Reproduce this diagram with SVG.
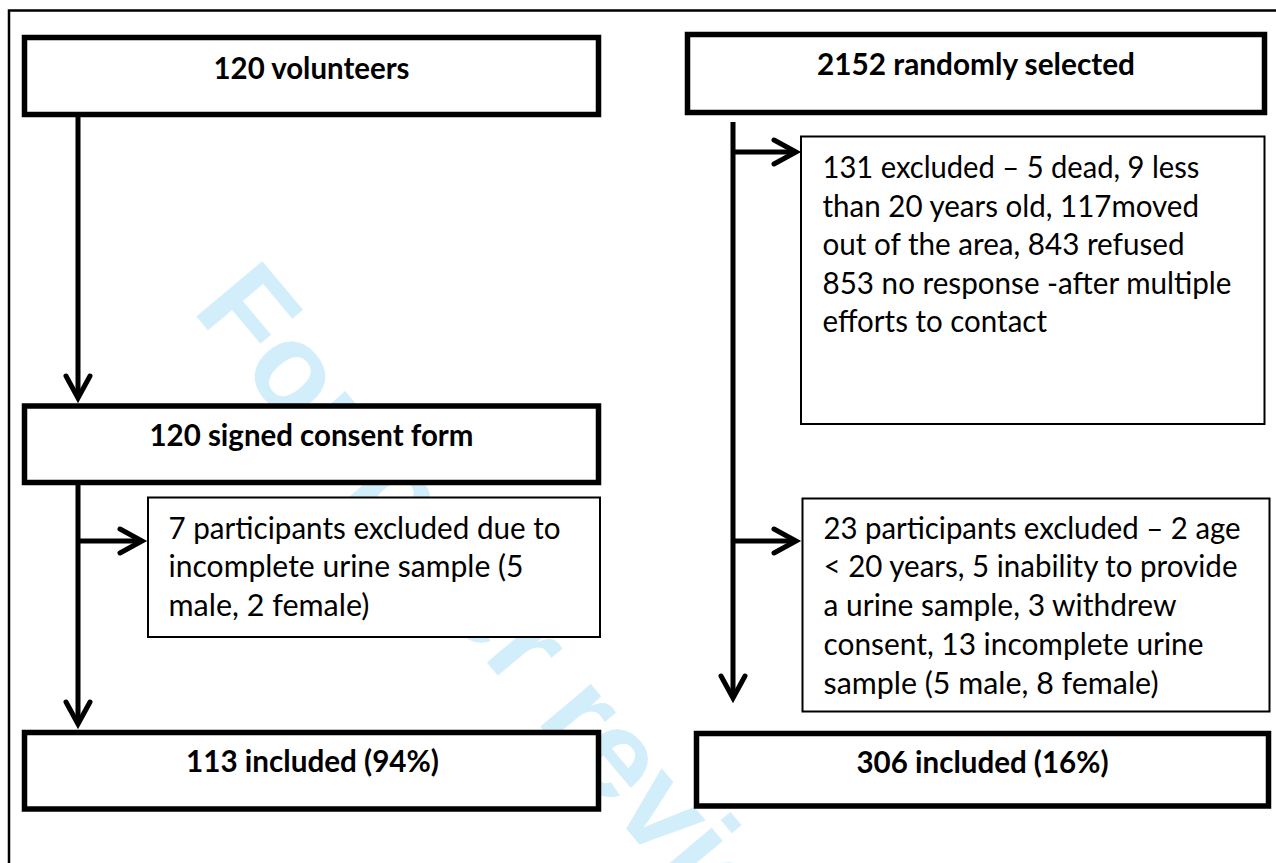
<svg xmlns="http://www.w3.org/2000/svg" width="1276" height="863" viewBox="0 0 1276 863">
  <style>
    .frame { fill: none; stroke: #000; stroke-width: 2.5; }
    .wm { font-family: "Liberation Sans", Arial, sans-serif; font-weight: bold; font-size: 125px; fill: #d3eefb; }
    .main { fill: #fff; stroke: #000; stroke-width: 5.5; }
    .note { fill: #fff; stroke: #000; stroke-width: 2; }
    .title { font-family: Lato, "Liberation Sans", sans-serif; font-weight: bold; font-size: 30px; fill: #000; text-anchor: middle; }
    .body { font-family: Lato, "Liberation Sans", sans-serif; font-size: 30px; fill: #000; }
    .link { fill: none; stroke: #000; stroke-width: 5; marker-end: url(#chev); }
  </style>
  <defs>
    <marker id="chev" markerUnits="userSpaceOnUse" viewBox="-30 -20 40 40" markerWidth="40" markerHeight="40" refX="0" refY="0" orient="auto" overflow="visible">
      <path d="M-22,-12 L0,0 L-22,12" fill="none" stroke="#000" stroke-width="5" stroke-linejoin="miter" stroke-linecap="round"/>
    </marker>
  </defs>

  <rect width="1276" height="863" fill="#fff"/>
  <!-- page frame (top and left edges) -->
  <path class="frame" d="M9,863 L9,10.5 L1276,10.5"/>

  <!-- diagonal watermark -->
  <text class="wm" transform="translate(191,310) rotate(50)">For peer review</text>

  <!-- connectors -->
  <g id="connectors">
    <path class="link" d="M78,117 L78,398"/>
    <path class="link" d="M78,485 L78,724"/>
    <path class="link" d="M80,541 L142,541"/>
    <path class="link" d="M733,122 L733,698"/>
    <path class="link" d="M733,152 L796,152"/>
    <path class="link" d="M733,541 L796,541"/>
  </g>

  <g id="volunteers">
    <rect class="main" x="24.5" y="37.5" width="574" height="77"/>
    <text class="title" x="311.5" y="79" textLength="196" lengthAdjust="spacingAndGlyphs">120 volunteers</text>
  </g>

  <g id="random">
    <rect class="main" x="687.5" y="34.5" width="577" height="78"/>
    <text class="title" x="976" y="75" textLength="318" lengthAdjust="spacingAndGlyphs">2152 randomly selected</text>
  </g>

  <g id="consent">
    <rect class="main" x="24.5" y="406" width="574" height="76.5"/>
    <text class="title" x="311.5" y="446" textLength="324" lengthAdjust="spacingAndGlyphs">120 signed consent form</text>
  </g>

  <g id="excluded-volunteers">
    <rect class="note" x="148" y="497.5" width="452" height="139.5"/>
    <text class="body" x="168.5" y="539" textLength="392" lengthAdjust="spacingAndGlyphs">7 participants excluded due to</text>
    <text class="body" x="168.5" y="577" textLength="355" lengthAdjust="spacingAndGlyphs">incomplete urine sample (5</text>
    <text class="body" x="168.5" y="615.5" textLength="201" lengthAdjust="spacingAndGlyphs">male, 2 female)</text>
  </g>

  <g id="included-volunteers">
    <rect class="main" x="24.5" y="732.5" width="574" height="76.5"/>
    <text class="title" x="312.5" y="771.5" textLength="253" lengthAdjust="spacingAndGlyphs">113 included (94%)</text>
  </g>

  <g id="excluded-random">
    <rect class="note" x="801" y="136.5" width="463.5" height="287.5"/>
    <text class="body" x="822.5" y="178" textLength="377" lengthAdjust="spacingAndGlyphs">131 excluded – 5 dead, 9 less</text>
    <text class="body" x="822.5" y="216.5" textLength="376.5" lengthAdjust="spacingAndGlyphs">than 20 years old, 117moved</text>
    <text class="body" x="822.5" y="255" textLength="362" lengthAdjust="spacingAndGlyphs">out of the area, 843 refused</text>
    <text class="body" x="822.5" y="293.5" textLength="409" lengthAdjust="spacingAndGlyphs">853 no response -after multiple</text>
    <text class="body" x="822.5" y="332" textLength="224.5" lengthAdjust="spacingAndGlyphs">efforts to contact</text>
  </g>

  <g id="excluded-participants">
    <rect class="note" x="802.5" y="498.5" width="467" height="213"/>
    <text class="body" x="823.5" y="538.5" textLength="417" lengthAdjust="spacingAndGlyphs">23 participants excluded – 2 age</text>
    <text class="body" x="823.5" y="577.3" textLength="414" lengthAdjust="spacingAndGlyphs">&lt; 20 years, 5 inability to provide</text>
    <text class="body" x="823.5" y="616.1" textLength="353" lengthAdjust="spacingAndGlyphs">a urine sample, 3 withdrew</text>
    <text class="body" x="823.5" y="654.9" textLength="380" lengthAdjust="spacingAndGlyphs">consent, 13 incomplete urine</text>
    <text class="body" x="823.5" y="693.7" textLength="335" lengthAdjust="spacingAndGlyphs">sample (5 male, 8 female)</text>
  </g>

  <g id="included-random">
    <rect class="main" x="696.5" y="733.5" width="572" height="72.5"/>
    <text class="title" x="982.5" y="773" textLength="252" lengthAdjust="spacingAndGlyphs">306 included (16%)</text>
  </g>
</svg>
